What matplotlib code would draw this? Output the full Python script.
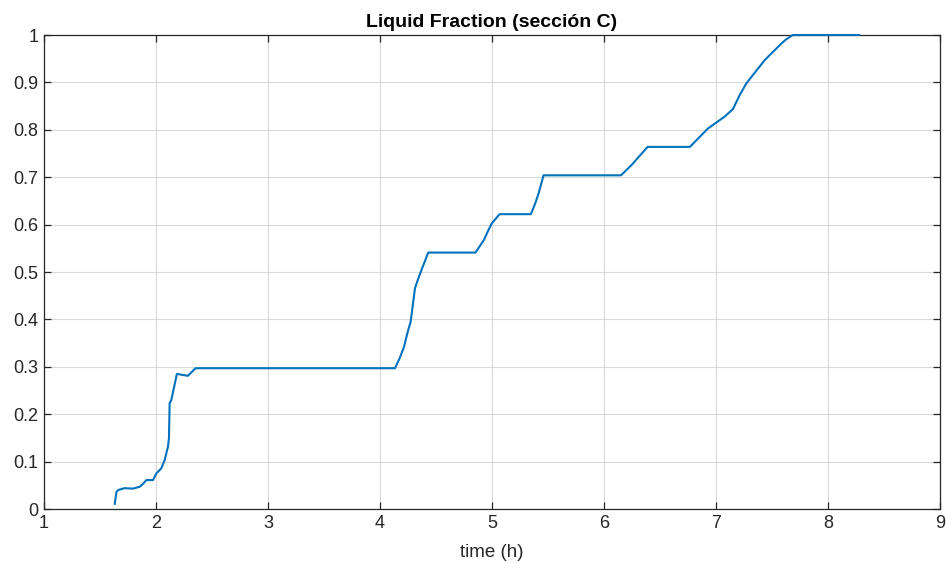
import matplotlib
matplotlib.use("Agg")
import matplotlib.pyplot as plt

# Liquid fraction over time for section C
time_h = [1.632, 1.647, 1.662, 1.72, 1.795, 1.855, 1.884, 1.914, 1.973, 2.003,
          2.048, 2.077, 2.107, 2.116, 2.122, 2.137, 2.187, 2.285, 2.315, 2.353,
          4.134, 4.176, 4.215, 4.245, 4.274, 4.313, 4.348, 4.431, 4.853, 4.927,
          4.97, 5.0, 5.069, 5.348, 5.387, 5.417, 5.461, 6.153, 6.248, 6.39,
          6.768, 6.93, 7.079, 7.153, 7.212, 7.272, 7.332, 7.436, 7.495, 7.585,
          7.628, 7.688, 8.28]
liquid_fraction = [0.011, 0.036, 0.040, 0.044, 0.043, 0.047, 0.053, 0.061, 0.061, 0.075,
                   0.086, 0.103, 0.131, 0.149, 0.223, 0.230, 0.285, 0.281, 0.288, 0.297,
                   0.297, 0.318, 0.342, 0.371, 0.395, 0.466, 0.490, 0.541, 0.541, 0.567,
                   0.589, 0.603, 0.622, 0.622, 0.645, 0.666, 0.704, 0.704, 0.726, 0.764,
                   0.764, 0.803, 0.828, 0.844, 0.873, 0.898, 0.916, 0.947, 0.961, 0.982,
                   0.991, 1.0, 1.0]

x_ticks = [1, 2, 3, 4, 5, 6, 7, 8, 9]
y_ticks = [0, 0.1, 0.2, 0.3, 0.4, 0.5, 0.6, 0.7, 0.8, 0.9, 1]
y_tick_labels = ["0", "0.1", "0.2", "0.3", "0.4", "0.5", "0.6", "0.7", "0.8", "0.9", "1"]

plt.rcParams["font.family"] = ["Liberation Sans", "DejaVu Sans"]

fig = plt.figure(figsize=(9.46, 5.63), dpi=100)
ax = fig.add_axes([0.0465, 0.0959, 0.947, 0.8419])

ax.plot(time_h, liquid_fraction, color="#0072BD", lw=1.5, clip_on=False, zorder=5)

ax.set_xlim(1, 9)
ax.set_ylim(0, 1)
ax.set_xticks(x_ticks)
ax.set_xticklabels([str(v) for v in x_ticks])
ax.set_yticks(y_ticks)
ax.set_yticklabels(y_tick_labels)

ax.grid(True, color="#d9d9d9", lw=0.8)
ax.set_axisbelow(True)
for s in ax.spines.values():
    s.set_color("#262626")
    s.set_linewidth(0.9)
    s.set_zorder(2)
ax.tick_params(direction="in", length=5, width=0.9, colors="#262626",
               labelsize=13, top=True, right=True, pad=4)

ax.set_xlabel("time (h)", fontsize=13.5, color="#262626", labelpad=9)
ax.set_title("Liquid Fraction (sección C)", fontsize=14, fontweight="bold",
             color="black", pad=6)

fig.savefig("out.png", dpi=100)
